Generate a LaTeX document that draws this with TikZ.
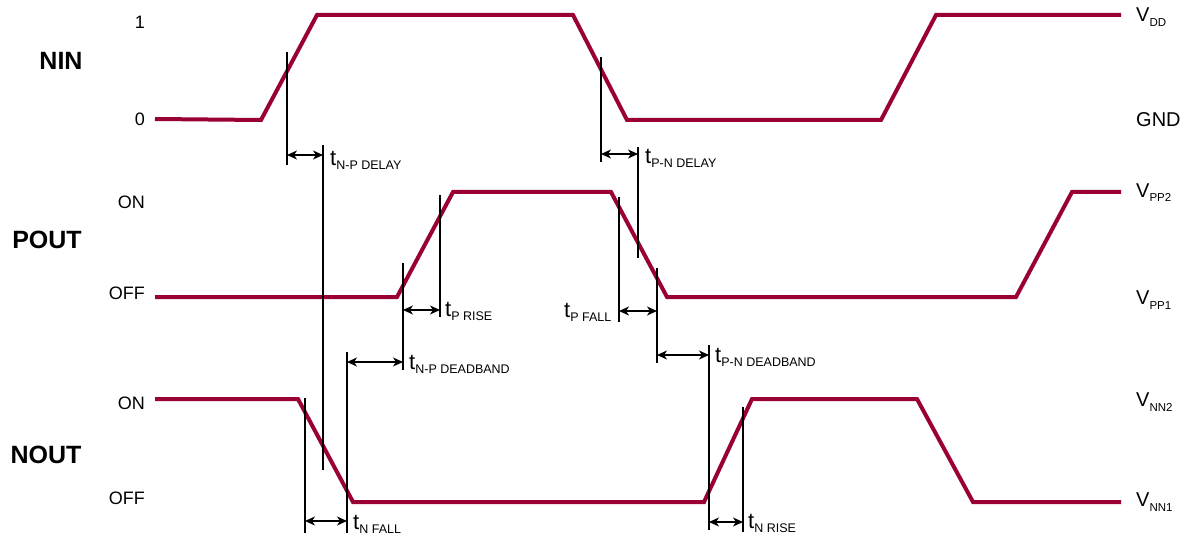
\documentclass[tikz,border=0pt]{standalone}
\usepackage{fontspec}
\setmainfont{Liberation Sans}
\usetikzlibrary{arrows.meta}
\definecolor{wave}{HTML}{9A0036}
\newcommand{\tsub}[2]{\fontsize{22}{24}\selectfont t\raisebox{-4pt}{\fontsize{12.5}{14}\selectfont #2}}
\newcommand{\vsub}[1]{\fontsize{20}{22}\selectfont V\raisebox{-5pt}{\fontsize{11.5}{13}\selectfont #1}}
\begin{document}
\begin{tikzpicture}[x=1pt,y=-1pt,
  wavestyle/.style={draw=wave,line width=4pt,line join=miter,line cap=butt},
  guide/.style={draw=black,line width=1.1pt},
  dim/.style={draw=black,line width=1.1pt,{Stealth[length=10pt,width=9pt,inset=3pt]}-{Stealth[length=10pt,width=9pt,inset=3pt]}},
  lvl/.style={anchor=base east,font=\fontsize{18}{20}\selectfont,inner sep=0pt},
  sig/.style={anchor=base,font=\bfseries\fontsize{25}{28}\selectfont,inner sep=0pt},
  rlab/.style={anchor=base west,inner sep=0pt},
  tlab/.style={anchor=base west,inner sep=0pt}]
\useasboundingbox (0,0) rectangle (1188,540);
% waveforms
\draw[wavestyle] (155,119) -- (261,120) -- (317,15) -- (573,15) -- (627,120) -- (881,120) -- (936,15) -- (1121,15);
\draw[wavestyle] (155,297) -- (397,297) -- (453,192) -- (611,192) -- (667,297) -- (1016,297) -- (1072,192) -- (1121,192);
\draw[wavestyle] (155,399) -- (298,399) -- (353,502) -- (704,502) -- (752,399) -- (917,399) -- (973,502) -- (1121,502);
% left labels
\node[lvl] (l1) at (145,29) {1};
\node[lvl] (l0) at (145,126) {0};
\node[lvl] (pon) at (145,208) {ON};
\node[lvl] (poff) at (145,299) {OFF};
\node[lvl] (non) at (145,409) {ON};
\node[lvl] (noff) at (145,504) {OFF};
\node[sig] (nin) at (61,70) {NIN};
\node[sig] (pout) at (47,248) {POUT};
\node[sig] (nout) at (46,463) {NOUT};
% right labels
\node[rlab] (vdd) at (1136,22) {\vsub{DD}};
\node[rlab,font=\fontsize{20}{22}\selectfont] (gnd) at (1136,127) {GND};
\node[rlab] (vpp2) at (1136,197) {\vsub{PP2}};
\node[rlab] (vpp1) at (1136,304) {\vsub{PP1}};
\node[rlab] (vnn2) at (1136,406) {\vsub{NN2}};
\node[rlab] (vnn1) at (1136,506) {\vsub{NN1}};
% guide lines
\draw[guide] (287,52) -- (287,165);
\draw[guide] (323,145) -- (323,470);
\draw[guide] (601,57) -- (601,162);
\draw[guide] (638,147) -- (638,258);
\draw[guide] (403,263) -- (403,370);
\draw[guide] (440,195) -- (440,317);
\draw[guide] (619,197) -- (619,322);
\draw[guide] (657,268) -- (657,363);
\draw[guide] (347,352) -- (347,533);
\draw[guide] (305,398) -- (305,533);
\draw[guide] (709,345) -- (709,530);
\draw[guide] (743,407) -- (743,532);
% dimension arrows
\draw[dim] (287,155) -- (323,155);
\draw[dim] (601,154) -- (638,154);
\draw[dim] (403,310) -- (440,310);
\draw[dim] (619,311) -- (657,311);
\draw[dim] (347,362) -- (403,362);
\draw[dim] (657,355) -- (709,355);
\draw[dim] (305,521) -- (347,521);
\draw[dim] (709,522) -- (743,522);
% timing labels
\node[tlab] (tnpd) at (330,166) {\tsub{}{N-P DELAY}};
\node[tlab] (tpnd) at (645,164) {\tsub{}{P-N DELAY}};
\node[tlab] (tpr) at (445,316) {\tsub{}{P RISE}};
\node[tlab] (tpf) at (564,317) {\tsub{}{P FALL}};
\node[tlab] (tnpdb) at (409,369) {\tsub{}{N-P DEADBAND}};
\node[tlab] (tpndb) at (715,362) {\tsub{}{P-N DEADBAND}};
\node[tlab] (tnf) at (353,529) {\tsub{}{N FALL}};
\node[tlab] (tnr) at (748,528) {\tsub{}{N RISE}};
\end{tikzpicture}
\end{document}
